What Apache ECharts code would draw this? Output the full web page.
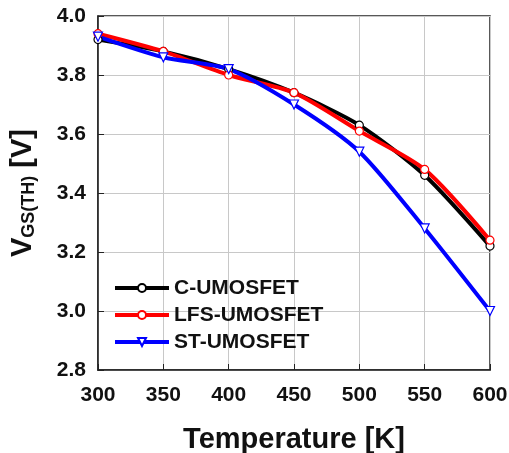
<!DOCTYPE html>
<html><head><meta charset="utf-8">
<script src="https://cdn.jsdelivr.net/npm/echarts@6/dist/echarts.min.js"></script>
<style>html,body{margin:0;padding:0;background:#fff}#c{width:509px;height:453px}</style>
</head><body><div id="c"></div>
<script>
const temperatures = [300, 350, 400, 450, 500, 550, 600];
const cUmosfet = [3.92, 3.88, 3.82, 3.74, 3.63, 3.46, 3.22];
const lfsUmosfet = [3.94, 3.88, 3.80, 3.74, 3.61, 3.48, 3.24];
const stUmosfet = [3.93, 3.86, 3.82, 3.70, 3.54, 3.28, 3.00];
const seriesNames = ['C-UMOSFET', 'LFS-UMOSFET', 'ST-UMOSFET'];
const xTicks = [300, 350, 400, 450, 500, 550, 600];
const yTicks = [2.8, 3.0, 3.2, 3.4, 3.6, 3.8, 4.0];

const font = 'Liberation Sans, Arial, sans-serif';
const chart = echarts.init(document.getElementById('c'));
function mk(name, vals, color, symbol, rot) {
  return {
    name, type: 'line', smooth: 0.25,
    data: temperatures.map((t, i) => [t, vals[i]]),
    symbol, symbolSize: symbol === 'circle' ? 8 : 9, symbolRotate: rot || 0,
    lineStyle: { color, width: 4 },
    itemStyle: { color: '#fff', borderColor: color, borderWidth: 1.2 },
    z: 2
  };
}
chart.setOption({
  animation: false,
  grid: { left: 98, right: 19, top: 16, bottom: 83, show: true, borderColor: '#222', borderWidth: 1.5,
    containLabel: false, outerBoundsMode: 'none' },
  xAxis: {
    type: 'value', min: 300, max: 600, interval: 50,
    name: 'Temperature [K]', nameLocation: 'middle', nameGap: 55,
    nameTextStyle: { fontFamily: font, fontWeight: 'bold', fontSize: 29, color: '#111' },
    axisLine: { lineStyle: { color: '#222', width: 1.5 } },
    axisTick: { inside: true, length: 6, lineStyle: { color: '#222' } },
    axisLabel: { fontFamily: font, fontWeight: 'bold', fontSize: 21, color: '#111', margin: 15,
      formatter: v => xTicks.includes(v) ? String(v) : '' },
    splitLine: { lineStyle: { color: '#c8c8c8', width: 1 } }
  },
  yAxis: {
    type: 'value', min: 2.8, max: 4.0, interval: 0.2,
    name: '{v|V}{s|GS(TH)}{v| [V]}', nameLocation: 'middle', nameGap: 60, nameRotate: 90,
    nameTextStyle: { rich: {
      v: { fontFamily: font, fontWeight: 'bold', fontSize: 29, color: '#111' },
      s: { fontFamily: font, fontWeight: 'bold', fontSize: 18, color: '#111', verticalAlign: 'bottom', padding: [12, 0, 0, 0] }
    } },
    axisLine: { lineStyle: { color: '#222', width: 1.5 } },
    axisTick: { inside: true, length: 6, lineStyle: { color: '#222' } },
    axisLabel: { fontFamily: font, fontWeight: 'bold', fontSize: 21, color: '#111', margin: 12,
      formatter: v => yTicks.some(t => Math.abs(t - v) < 1e-6) ? v.toFixed(1) : '' },
    splitLine: { lineStyle: { color: '#c8c8c8', width: 1 } }
  },
  legend: {
    orient: 'vertical', left: 108, top: 272, itemWidth: 54, itemHeight: 10, itemGap: 5,
    lineStyle: { width: 4 },
    textStyle: { fontFamily: font, fontWeight: 'bold', fontSize: 21, color: '#111', lineHeight: 22 },
    data: seriesNames
  },
  series: [
    mk(seriesNames[0], cUmosfet, '#000000', 'circle'),
    mk(seriesNames[1], lfsUmosfet, '#ff0000', 'circle'),
    mk(seriesNames[2], stUmosfet, '#0000ff', 'triangle', 180)
  ]
});
</script></body></html>
